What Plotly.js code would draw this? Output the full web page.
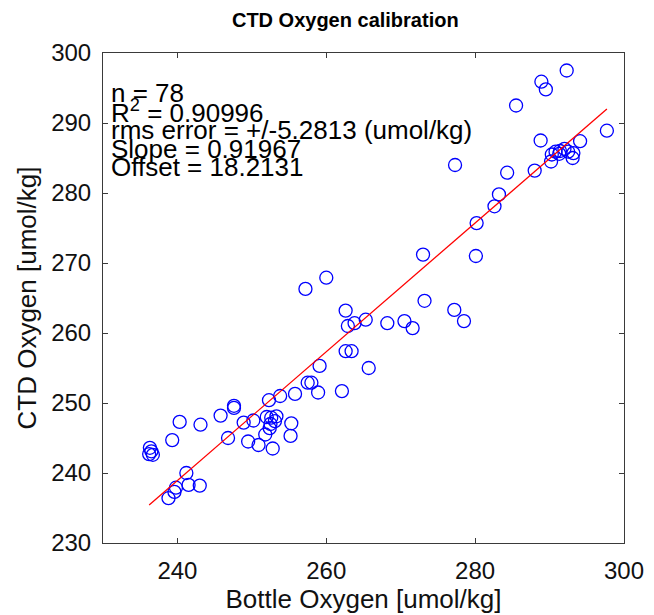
<!DOCTYPE html>
<html>
<head>
<meta charset="utf-8">
<script src="https://cdn.plot.ly/plotly-3.0.1.min.js"></script>
<style>
  html, body { margin: 0; padding: 0; background: #ffffff; }
  #chart { width: 654px; height: 615px; }
</style>
</head>
<body>
<div id="chart"></div>
<script>
// Bottle oxygen (x) and CTD oxygen (y), umol/kg
const bottleOxygen = [
  257.2, 260.0, 262.6, 262.9, 263.8, 265.3, 262.6, 263.4, 265.7, 259.1,
  257.5, 258.0, 258.9, 262.1, 255.8, 253.8, 252.3, 247.6, 247.6, 245.8,
  240.3, 243.1, 248.9, 250.2, 252.0, 252.6, 253.3, 253.1, 252.5, 252.4,
  255.3, 239.3, 246.8, 249.5, 250.9, 251.8, 252.8, 255.2, 236.3, 236.5,
  236.2, 236.7, 241.2, 239.8, 239.6, 241.5, 243.0, 238.8,
  292.3, 288.9, 289.5, 285.5, 297.7, 288.8, 294.1,
  290.3, 290.8, 291.4, 292.0, 292.5, 293.2, 290.2, 293.1, 291.3,
  277.3, 288.0, 284.3, 283.2, 282.6, 280.2, 273.0, 280.1, 273.2,
  277.2, 278.5, 268.2, 270.5, 271.6
];
const ctdOxygen = [
  266.3, 267.9, 263.2, 261.0, 261.4, 261.9, 257.4, 257.4, 255.0, 255.3,
  252.9, 252.9, 251.5, 251.7, 251.3, 251.0, 250.4, 249.6, 249.3, 248.2,
  247.3, 246.9, 247.2, 247.5, 248.0, 247.9, 248.1, 247.4, 247.0, 246.4,
  247.1, 244.7, 245.0, 244.5, 244.0, 245.5, 243.5, 245.3, 243.6, 243.1,
  242.7, 242.6, 240.0, 237.9, 237.3, 238.3, 238.2, 236.4,
  297.5, 295.9, 294.8, 292.5, 288.9, 287.5, 287.4,
  285.5, 285.9, 286.0, 286.3, 285.9, 285.7, 284.5, 285.0, 285.6,
  284.0, 283.2, 282.9, 279.8, 278.1, 275.7, 271.2, 271.0, 264.6,
  263.3, 261.7, 261.4, 261.7, 260.7
];

// Fit statistics printed on the chart
const nPoints = 78;
const rSquared = "0.90996";
const rmsError = "5.2813";
const fitSlope = 0.91967;
const fitOffset = 18.2131;

const xTickVals = [240, 260, 280, 300];
const yTickVals = [230, 240, 250, 260, 270, 280, 290, 300];

const xMin = Math.min(...bottleOxygen);
const xMax = Math.max(...bottleOxygen);
const fitX = [xMin, xMax];
const fitY = fitX.map(v => fitSlope * v + fitOffset);

const FONT = '"Liberation Sans", Arial, Helvetica, sans-serif';

const statLines = [
  'n = ' + nPoints,
  'R<sup>2</sup> = ' + rSquared,
  'rms error = +/-' + rmsError + ' (umol/kg)',
  'Slope = ' + fitSlope,
  'Offset = ' + fitOffset
];

const annY0 = 0.918, annStep = 0.0378;
const annotations = statLines.map((t, i) => ({
  text: t, xref: 'paper', yref: 'paper', x: 0.012, y: annY0 - i * annStep,
  xanchor: 'left', yanchor: 'middle', showarrow: false,
  font: { family: FONT, size: 26, color: '#000' }
}));

const traces = [
  {
    x: bottleOxygen, y: ctdOxygen, type: 'scatter', mode: 'markers',
    marker: { symbol: 'circle-open', size: 13, color: 'rgb(0,0,255)', line: { width: 1.3, color: 'rgb(0,0,255)' } },
    hoverinfo: 'x+y'
  },
  {
    x: fitX, y: fitY, type: 'scatter', mode: 'lines',
    line: { color: 'rgb(255,0,0)', width: 1.3 }
  }
];

const axisCommon = {
  showgrid: false, zeroline: false, showline: true, mirror: 'ticks',
  linecolor: '#3a3a3a', linewidth: 1, ticks: 'inside', ticklen: 5, tickwidth: 1,
  tickcolor: '#3a3a3a', tickfont: { family: FONT, size: 24, color: '#111' }
};

const layout = {
  width: 654, height: 615,
  margin: { l: 103, r: 30, t: 53, b: 72, pad: 0 },
  paper_bgcolor: '#ffffff', plot_bgcolor: '#ffffff',
  showlegend: false,
  title: { text: '<b>CTD Oxygen calibration</b>', x: 0.528, xanchor: 'center', y: 0.968, yanchor: 'middle',
           font: { family: FONT, size: 20, color: '#000' } },
  xaxis: Object.assign({}, axisCommon, {
    range: [230, 300], tickvals: xTickVals, ticklabelstandoff: 6,
    title: { text: 'Bottle Oxygen [umol/kg]', standoff: 5, font: { family: FONT, size: 26, color: '#111' } }
  }),
  yaxis: Object.assign({}, axisCommon, {
    range: [230, 300], tickvals: yTickVals, ticklabelstandoff: 6,
    title: { text: 'CTD Oxygen [umol/kg]', standoff: 7, font: { family: FONT, size: 26, color: '#111' } }
  }),
  annotations: annotations
};

Plotly.newPlot('chart', traces, layout, { staticPlot: true, displayModeBar: false });
</script>
</body>
</html>
